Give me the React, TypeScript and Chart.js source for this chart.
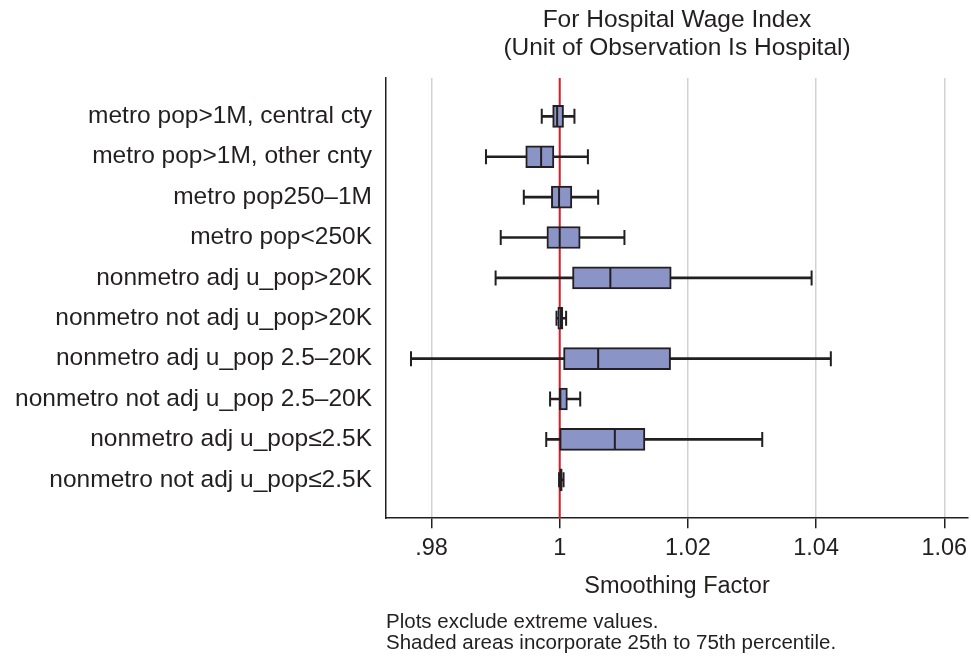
import React, { useEffect, useRef } from 'react';
import { Chart, registerables } from 'chart.js';

Chart.register(...registerables);

const categories = [
  'metro pop>1M, central cty',
  'metro pop>1M, other cnty',
  'metro pop250–1M',
  'metro pop<250K',
  'nonmetro adj u_pop>20K',
  'nonmetro not adj u_pop>20K',
  'nonmetro adj u_pop 2.5–20K',
  'nonmetro not adj u_pop 2.5–20K',
  'nonmetro adj u_pop≤2.5K',
  'nonmetro not adj u_pop≤2.5K',
];

const whiskerLow = [0.9972, 0.9885, 0.9944, 0.9908, 0.99, 0.9995, 0.9768, 0.9985, 0.9979, 0.9999];
const quartile1 = [0.9989, 0.9947, 0.9987, 0.998, 1.002, 0.9997, 1.0006, 0.9999, 1.0, 1.0];
const medians = [0.9996, 0.9971, 0.9999, 1.0, 1.0079, 1.0002, 1.006, 1.0001, 1.0086, 1.0002];
const quartile3 = [1.0006, 0.9991, 1.0019, 1.0032, 1.0174, 1.0005, 1.0173, 1.0012, 1.0133, 1.0004];
const whiskerHigh = [1.0023, 1.0044, 1.006, 1.0101, 1.0393, 1.001, 1.0423, 1.0032, 1.0316, 1.0006];

const xTickValues = [0.98, 1, 1.02, 1.04, 1.06];
const xTickLabels = ['.98', '1', '1.02', '1.04', '1.06'];
const referenceValue = 1;

const titleLines = ['For Hospital Wage Index', '(Unit of Observation Is Hospital)'];
const xAxisTitle = 'Smoothing Factor';
const noteLines = ['Plots exclude extreme values.', 'Shaded areas incorporate 25th to 75th percentile.'];

const INK = '#231f20';
const BOX_FILL = '#8b94c7';
const RED = '#d2202f';
const GRID = '#d2d2d2';
const FONT = '"Liberation Sans", Arial, Helvetica, sans-serif';

export default function App() {
  const canvasRef = useRef<HTMLCanvasElement | null>(null);

  useEffect(() => {
    const canvas = canvasRef.current;
    if (!canvas) return;
    Chart.defaults.font.family = FONT;
    Chart.defaults.color = INK;

    const rowY = (i: number) => i + 1;

    const chart = new Chart(canvas, {
      type: 'bar',
      data: {
        datasets: [
          {
            type: 'scatter',
            label: 'median',
            data: medians.map((m, i) => ({ x: m, y: rowY(i) })),
            pointStyle: 'line',
            pointRotation: 90,
            pointRadius: 10,
            pointBorderWidth: 2,
            pointBorderColor: INK,
            pointBackgroundColor: INK,
            order: 1,
          } as any,
          {
            type: 'scatter',
            label: 'caps',
            data: whiskerLow.flatMap((lo, i) => [
              { x: lo, y: rowY(i) },
              { x: whiskerHigh[i], y: rowY(i) },
            ]),
            pointStyle: 'line',
            pointRotation: 90,
            pointRadius: 7.5,
            pointBorderWidth: 2,
            pointBorderColor: INK,
            pointBackgroundColor: INK,
            order: 2,
          } as any,
          {
            type: 'bar',
            label: 'box',
            data: quartile1.map((a, i) => ({ x: [a, quartile3[i]], y: rowY(i) })),
            backgroundColor: BOX_FILL,
            borderColor: INK,
            borderWidth: 2,
            borderSkipped: false,
            barThickness: 22,
            grouped: false,
            order: 3,
          } as any,
          {
            type: 'bar',
            label: 'whisker',
            data: whiskerLow.map((lo, i) => ({ x: [lo, whiskerHigh[i]], y: rowY(i) })),
            backgroundColor: INK,
            borderWidth: 0,
            barThickness: 2,
            grouped: false,
            order: 4,
          } as any,
          {
            type: 'line',
            label: 'reference',
            data: [
              { x: referenceValue, y: 0.05 },
              { x: referenceValue, y: 10.95 },
            ],
            borderColor: RED,
            borderWidth: 2,
            pointRadius: 0,
            order: 5,
          } as any,
        ],
      },
      options: {
        indexAxis: 'y',
        animation: false,
        responsive: false,
        devicePixelRatio: 1,
        layout: { autoPadding: false, padding: { left: 0, right: 3, top: 0, bottom: 0 } },
        plugins: {
          legend: { display: false },
          tooltip: { enabled: false },
          title: {
            display: true,
            text: titleLines,
            fullSize: false,
            color: INK,
            font: { size: 24.5, weight: 'normal', family: FONT, lineHeight: 1.143 },
            padding: { top: 6, bottom: 16 },
          },
          subtitle: {
            display: true,
            position: 'bottom',
            align: 'start',
            fullSize: false,
            text: noteLines,
            color: INK,
            font: { size: 20.5, weight: 'normal', family: FONT, lineHeight: 1.04 },
            padding: { top: 0, bottom: 2 },
          },
        },
        scales: {
          x: {
            type: 'linear',
            position: 'bottom',
            min: 0.9729,
            max: 1.0637,
            offset: false,
            afterBuildTicks: (s: any) => {
              s.ticks = xTickValues.map((v) => ({ value: v }));
            },
            afterFit: (s: any) => {
              s.height = 93.2;
              s.paddingLeft = 0;
              s.paddingRight = 0;
            },
            ticks: {
              includeBounds: false,
              callback: (_v: any, i: number) => xTickLabels[i],
              font: { size: 23.5, family: FONT },
              color: INK,
              padding: 6,
              maxRotation: 0,
              autoSkip: false,
            },
            grid: {
              display: true,
              offset: false,
              color: GRID,
              lineWidth: 1.5,
              drawTicks: true,
              tickLength: 10,
              tickColor: INK,
              tickWidth: 1.5,
            },
            border: { display: true, color: INK, width: 1.5 },
            title: {
              display: true,
              text: xAxisTitle,
              color: INK,
              font: { size: 23.5, family: FONT, lineHeight: 1.2 },
              padding: { top: 8, bottom: 10.4 },
            },
          },
          y: {
            type: 'linear',
            reverse: true,
            min: 0.05,
            max: 10.95,
            offset: false,
            afterBuildTicks: (s: any) => {
              s.ticks = categories.map((_, i) => ({ value: rowY(i) }));
            },
            afterFit: (s: any) => {
              s.width = 386;
              s.paddingTop = 0;
              s.paddingBottom = 0;
            },
            ticks: {
              callback: (_v: any, i: number) => categories[i],
              font: { size: 24.5, family: FONT },
              color: INK,
              padding: 14,
              autoSkip: false,
            },
            grid: { display: false, drawTicks: false, offset: false },
            border: { display: true, color: INK, width: 1.5 },
          },
        },
      } as any,
    });

    return () => chart.destroy();
  }, []);

  return (
    <div style={{ position: 'absolute', left: 0, top: 0, width: 971, height: 656, background: '#fff' }}>
      <canvas ref={canvasRef} width={971} height={656} style={{ display: 'block' }} />
    </div>
  );
}
